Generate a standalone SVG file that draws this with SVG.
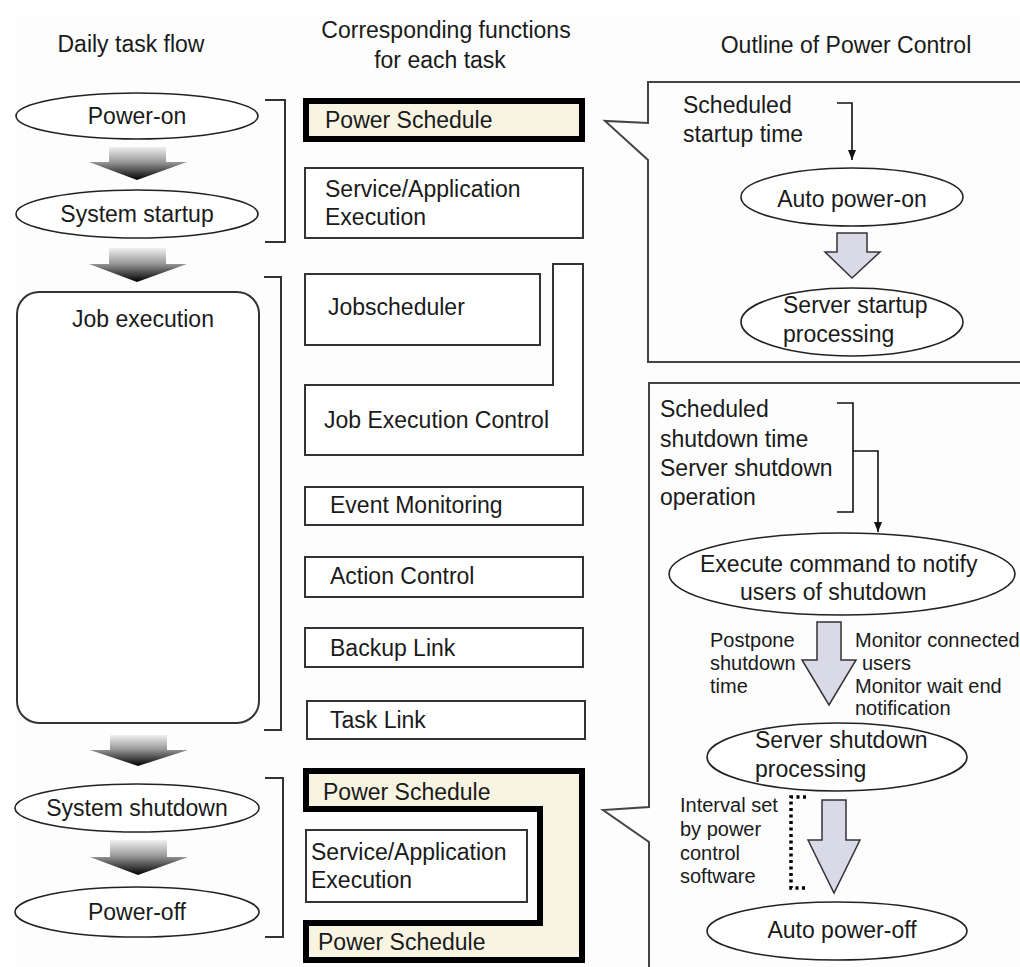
<svg xmlns="http://www.w3.org/2000/svg" width="1020" height="967" viewBox="0 0 1020 967">
<style>
text{font-family:'Liberation Sans',Arial,sans-serif;font-size:23px;fill:#1a1a1a}
.s{font-size:20px}
.box{fill:#fff;stroke:#333;stroke-width:2}
.ps{fill:#f8f4e2;stroke:#000;stroke-width:6}
.el{fill:#fff;stroke:#222;stroke-width:1.6}
.br{fill:none;stroke:#333;stroke-width:2}
.co{fill:none;stroke:#444;stroke-width:2}
.ga{fill:url(#gr)}
.ba{fill:#d9d9e8;stroke:#333;stroke-width:1.5}
.ln{fill:none;stroke:#111;stroke-width:1.6}
</style>
<defs>
<linearGradient id="gr" x1="0" y1="0" x2="0" y2="1">
<stop offset="0" stop-color="#f0f0f0"/>
<stop offset="0.45" stop-color="#9a9a9a"/>
<stop offset="1" stop-color="#000"/>
</linearGradient>
<marker id="ah" markerWidth="10" markerHeight="10" refX="10" refY="5" orient="auto" markerUnits="userSpaceOnUse" viewBox="0 0 10 10">
<path d="M0,1 L10,5 L0,9 Z" fill="#111"/>
</marker>
</defs>
<rect x="0" y="0" width="1020" height="967" fill="#fff"/>
<rect x="15" y="15" width="1005" height="952" fill="#fcfdfc"/>

<g id="headers">
<text x="131" y="52" text-anchor="middle">Daily task flow</text>
<text x="446" y="38" text-anchor="middle">Corresponding functions</text>
<text x="440" y="68" text-anchor="middle">for each task</text>
<text x="846" y="53" text-anchor="middle">Outline of Power Control</text>
</g>

<g id="power-on"><ellipse class="el" cx="137" cy="116" rx="121" ry="23"/><text x="137" y="124" text-anchor="middle">Power-on</text></g>
<g id="system-startup"><ellipse class="el" cx="137" cy="214" rx="121" ry="24"/><text x="137" y="222" text-anchor="middle">System startup</text></g>
<g id="job-execution"><rect class="box" x="17" y="292" width="242" height="431" rx="22"/><text x="72" y="327">Job execution</text></g>
<g id="system-shutdown"><ellipse class="el" cx="137" cy="808" rx="122" ry="24"/><text x="137" y="816" text-anchor="middle">System shutdown</text></g>
<g id="power-off"><ellipse class="el" cx="137" cy="912" rx="122" ry="25"/><text x="137" y="920" text-anchor="middle">Power-off</text></g>

<g id="flow-arrows">
<path class="ga" d="M109,147 H166 V162 H187 L137,180 L89,162 H109 Z"/>
<path class="ga" d="M109,248 H166 V264 H187 L137,282 L89,264 H109 Z"/>
<path class="ga" d="M110,735 H167 V750 H188 L138,766 L90,750 H110 Z"/>
<path class="ga" d="M110,840 H167 V857 H188 L138,875 L90,857 H110 Z"/>
</g>

<g id="brackets">
<path class="br" d="M265,100 H285 V242 H265"/>
<path class="br" d="M264,277 H281 V730 H264"/>
<path class="br" d="M265,778 H283 V937 H265"/>
</g>

<g id="power-schedule-1"><rect class="ps" x="306" y="101" width="276" height="38"/><text x="325" y="128">Power Schedule</text></g>
<g id="service-app-1"><rect class="box" x="305" y="168" width="278" height="70"/><text x="325" y="197">Service/Application</text><text x="325" y="225">Execution</text></g>
<g id="jobscheduler"><rect class="box" x="305" y="274" width="235" height="71"/><text x="328" y="315">Jobscheduler</text></g>
<g id="job-execution-control"><path class="box" d="M305,385 H553 V264 H583 V455 H305 Z"/><text x="324" y="428">Job Execution Control</text></g>
<g id="event-monitoring"><rect class="box" x="305" y="487" width="278" height="38"/><text x="330" y="513">Event Monitoring</text></g>
<g id="action-control"><rect class="box" x="305" y="557" width="278" height="40"/><text x="330" y="584">Action Control</text></g>
<g id="backup-link"><rect class="box" x="305" y="628" width="278" height="39"/><text x="330" y="656">Backup Link</text></g>
<g id="task-link"><rect class="box" x="307" y="701" width="278" height="38"/><text x="330" y="728">Task Link</text></g>
<g id="power-schedule-2"><path class="ps" d="M306,771 H582 V960 H306 V923 H540 V809 H306 Z"/><text x="323" y="800">Power Schedule</text><text x="318" y="950">Power Schedule</text></g>
<g id="service-app-2"><rect class="box" x="306" y="830" width="221" height="72"/><text x="311" y="860">Service/Application</text><text x="311" y="888">Execution</text></g>

<g id="callout-startup">
<path class="co" d="M1025,82 H648 V123 L605,121 L648,160 V362 H1025"/>
<text x="683" y="113">Scheduled</text>
<text x="683" y="142">startup time</text>
</g>
<g id="auto-power-on"><ellipse class="el" cx="852" cy="197" rx="111" ry="29"/><text x="852" y="207" text-anchor="middle">Auto power-on</text></g>
<g id="server-startup"><ellipse class="el" cx="852" cy="322" rx="111" ry="34"/><text x="783" y="313">Server startup</text><text x="783" y="342">processing</text></g>

<g id="callout-shutdown">
<path class="co" d="M1025,383 H649 V807 L603,810 L649,842 V970"/>
<text x="660" y="417">Scheduled</text>
<text x="660" y="447">shutdown time</text>
<text x="660" y="476">Server shutdown</text>
<text x="660" y="505">operation</text>
<text class="s" x="710" y="647">Postpone</text>
<text class="s" x="710" y="670">shutdown</text>
<text class="s" x="710" y="693">time</text>
<text class="s" x="855" y="647">Monitor connected</text>
<text class="s" x="862" y="670">users</text>
<text class="s" x="855" y="693">Monitor wait end</text>
<text class="s" x="855" y="715">notification</text>
<text class="s" x="680" y="812">Interval set</text>
<text class="s" x="680" y="836">by power</text>
<text class="s" x="680" y="860">control</text>
<text class="s" x="680" y="883">software</text>
</g>
<g id="execute-command"><ellipse class="el" cx="842" cy="574" rx="173" ry="41"/><text x="700" y="572">Execute command to notify</text><text x="740" y="600">users of shutdown</text></g>
<g id="server-shutdown"><ellipse class="el" cx="837" cy="757" rx="130" ry="34"/><text x="755" y="748">Server shutdown</text><text x="755" y="777">processing</text></g>
<g id="auto-power-off"><ellipse class="el" cx="837" cy="931" rx="130" ry="29"/><text x="842" y="938" text-anchor="middle">Auto power-off</text></g>

<g id="connectors">
<path class="ln" d="M837,103 H852 V160" marker-end="url(#ah)"/>
<path class="ln" d="M837,403 H853 V512 H837"/>
<path class="ln" d="M853,451 H878 V532" marker-end="url(#ah)"/>
<path class="ba" d="M837,233 H867 V252 H880 L852,278 L825,252 H837 Z"/>
<path class="ba" d="M817,622 H841 V660 H856 L829,705 L802,660 H817 Z"/>
<path class="ba" d="M822,800 H846 V840 H860 L834,893 L808,840 H822 Z"/>
<path d="M806,797 H791 V888 H806" fill="none" stroke="#000" stroke-width="3.5" stroke-dasharray="3,3.5"/>
</g>
</svg>
